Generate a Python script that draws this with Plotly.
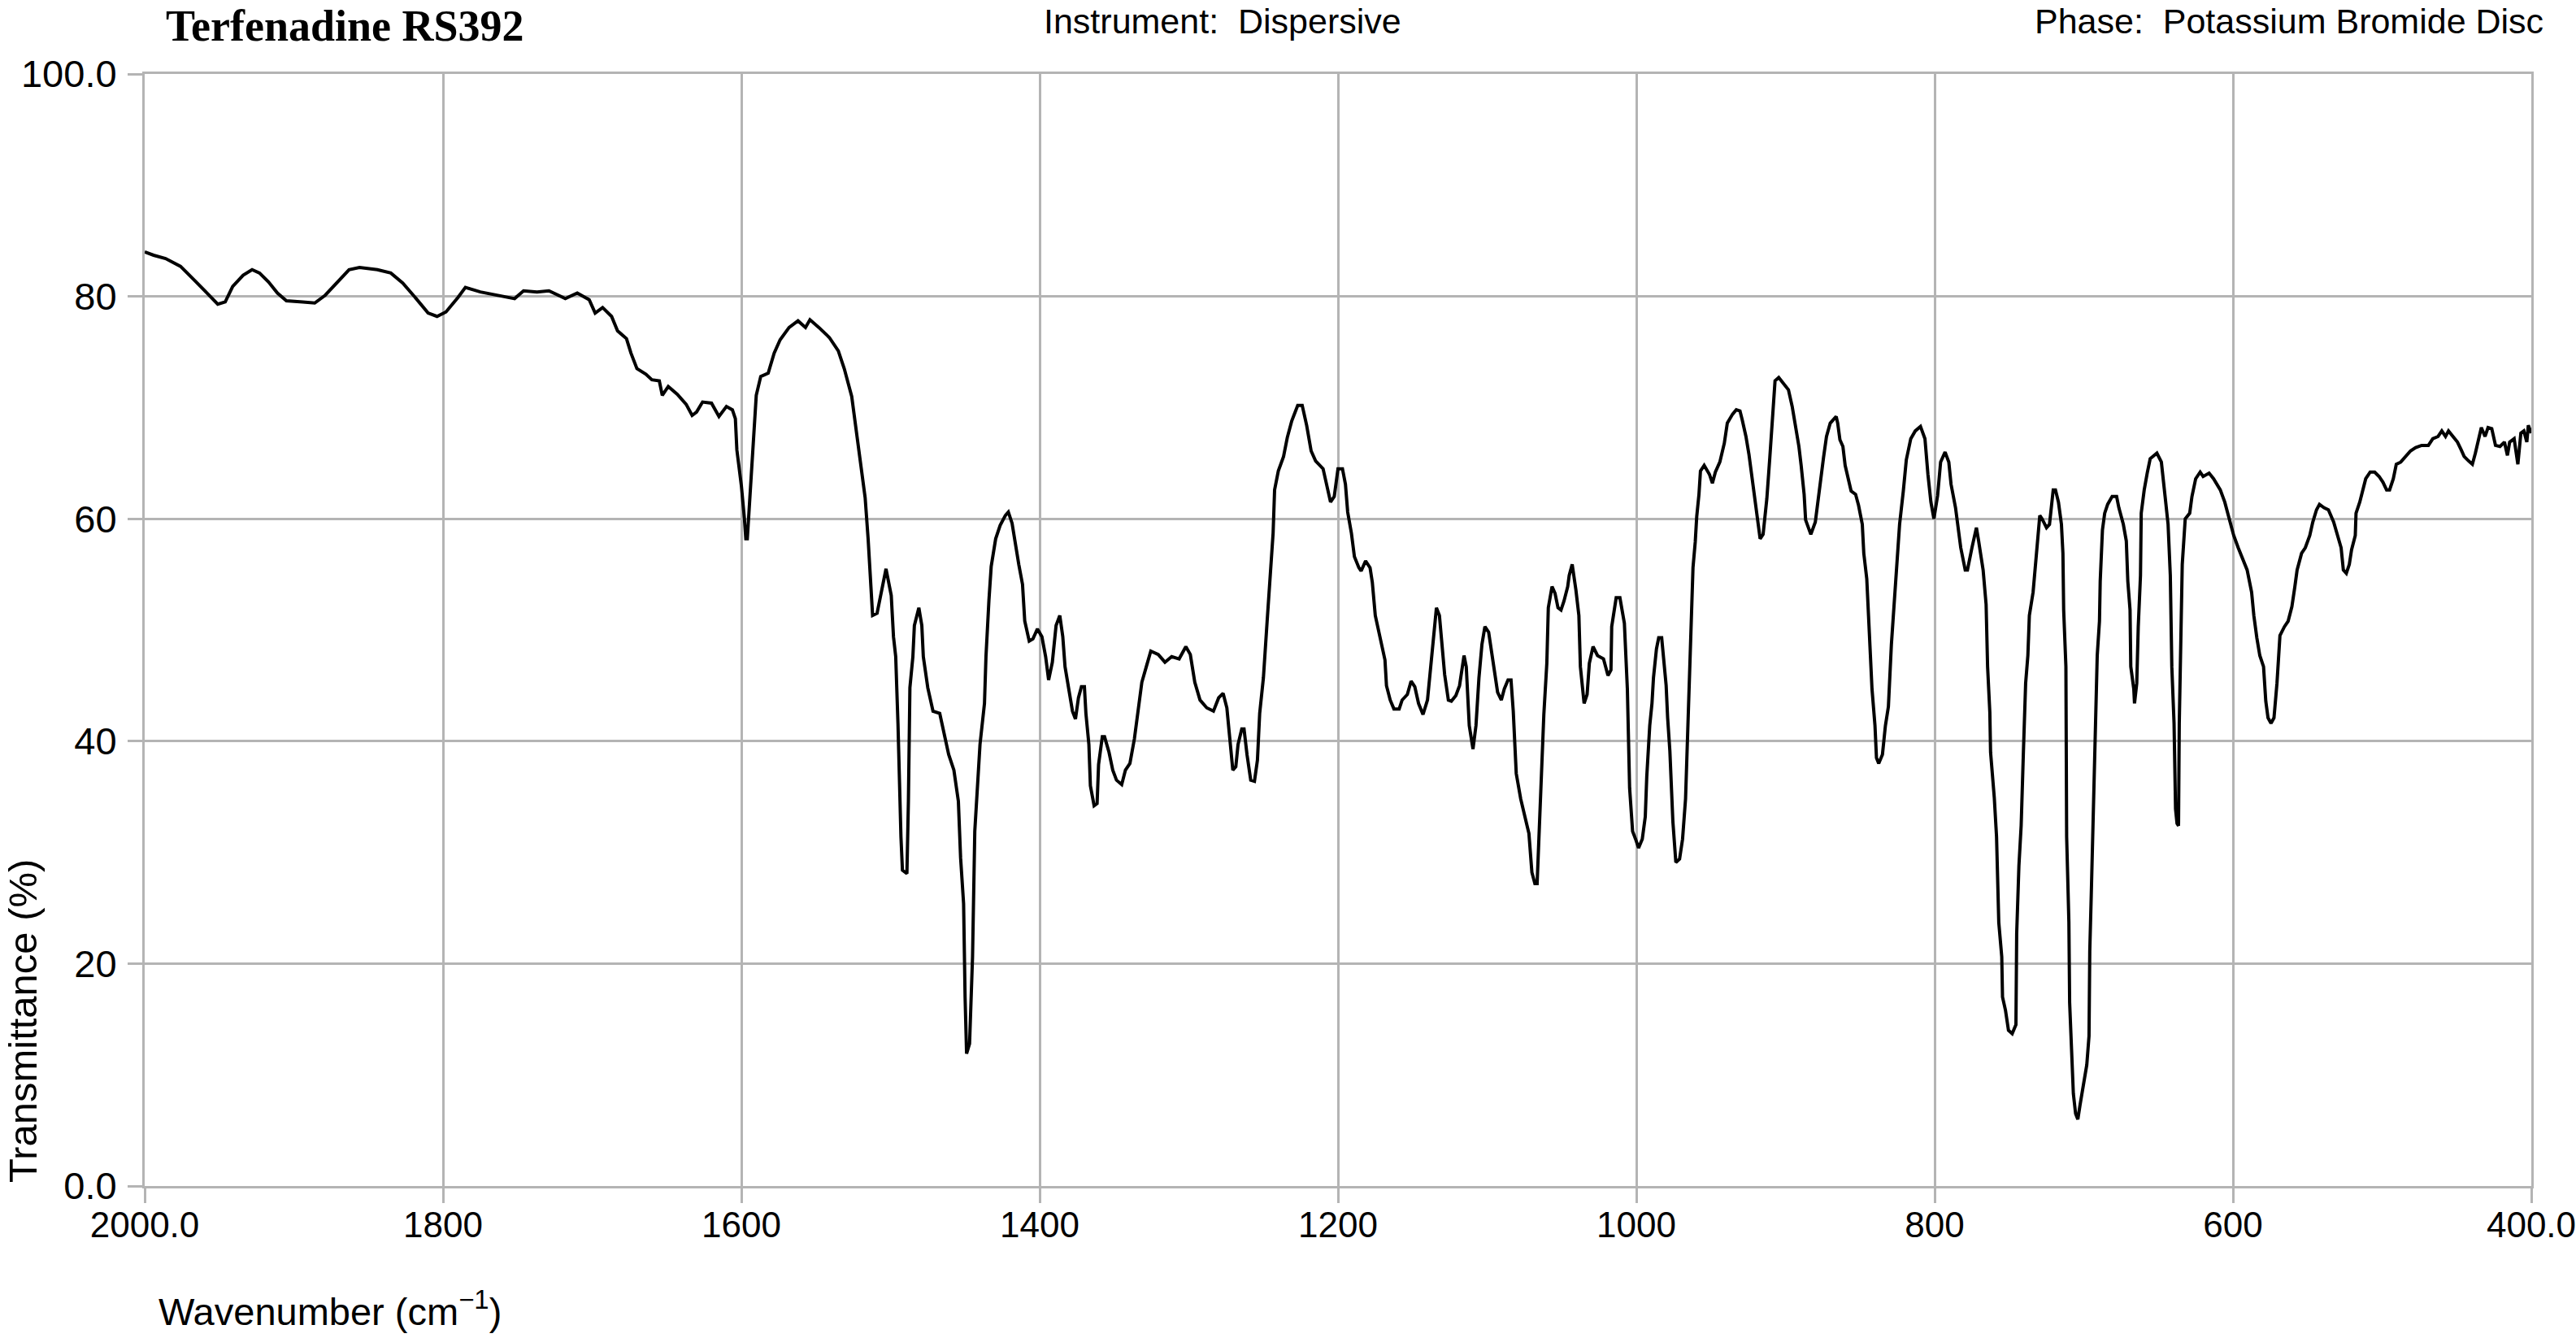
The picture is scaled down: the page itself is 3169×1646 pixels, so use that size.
import plotly.graph_objects as go

# ---------------- data ----------------
wavenumber = [
    2000, 1994, 1986, 1976, 1967, 1957, 1951, 1946, 1941, 1934, 1928, 1923, 1917, 1911, 1905, 1894,
    1886, 1879, 1871, 1863, 1856, 1844, 1835, 1827, 1818, 1810, 1804, 1798, 1790, 1785, 1775, 1764,
    1752, 1746, 1737, 1729, 1718, 1710, 1702, 1698, 1693, 1687, 1683, 1677, 1674, 1670, 1664, 1660,
    1655, 1653, 1649, 1643, 1637, 1633, 1630, 1626, 1620, 1615, 1610, 1606, 1604, 1603, 1600, 1598,
    1597, 1596, 1594, 1592, 1590, 1587, 1582, 1578, 1574, 1568, 1562, 1557, 1554, 1548, 1541, 1535,
    1531, 1526, 1523, 1520, 1517, 1515, 1513.5, 1512, 1509, 1506, 1503, 1499.5, 1498, 1496.5, 1495,
    1493, 1492, 1489, 1488, 1487, 1485, 1484, 1481, 1479, 1478, 1475, 1471.5, 1467, 1464, 1461,
    1457.5, 1454.5, 1453, 1451, 1450, 1449, 1447, 1445, 1443.5, 1442, 1440, 1437, 1436, 1434,
    1432.5, 1429.5, 1426.5, 1423, 1421, 1418.5, 1416.5, 1414, 1411.5, 1410, 1407, 1404.5, 1401.5,
    1398.5, 1396, 1394, 1391.5, 1389, 1386.5, 1384.5, 1383, 1380.5, 1378, 1376, 1374, 1372, 1370,
    1369, 1367, 1366, 1363.5, 1361.5, 1360.5, 1358, 1356.5, 1353.5, 1351, 1348.5, 1345, 1342.5,
    1339.5, 1336.5, 1334, 1331.5, 1328.5, 1325.5, 1320.5, 1316, 1311.5, 1306.5, 1302, 1299, 1296,
    1292.5, 1288, 1283.5, 1280, 1277, 1274.5, 1272.5, 1270.5, 1268.5, 1267, 1264.5, 1263, 1261,
    1258.5, 1256, 1254, 1252.5, 1250, 1247.5, 1245.5, 1243.5, 1242.5, 1240, 1236.5, 1234, 1231,
    1227, 1224, 1221, 1218, 1215, 1210, 1207, 1205, 1202.5, 1200, 1197, 1195, 1193.5, 1191, 1189,
    1186, 1184.5, 1181.5, 1178.5, 1177, 1175, 1173, 1171, 1168.5, 1167.5, 1165, 1162.5, 1159, 1157,
    1153.5, 1151, 1148.5, 1146, 1143, 1140, 1138, 1136, 1134, 1132, 1130.5, 1128.5, 1126, 1124,
    1121, 1118.5, 1115.5, 1114, 1112, 1109.5, 1107.5, 1105.5, 1103.5, 1101.5, 1099, 1097, 1095,
    1093, 1090.5, 1088.5, 1086, 1084, 1082.5, 1080.5, 1077.5, 1075, 1072, 1070, 1068, 1066.5, 1065,
    1063.5, 1062, 1060, 1059, 1056.5, 1054.5, 1052.5, 1050.5, 1048.5, 1046, 1045, 1043, 1040.5,
    1038.5, 1037.5, 1035, 1033, 1031.5, 1029, 1026, 1022, 1019, 1017, 1016.5, 1013.5, 1011, 1008,
    1006, 1004.5, 1002.5, 1000.5, 998.5, 996, 994, 993, 991, 989.5, 988.5, 986.5, 985, 983, 981.5,
    980, 979, 977.5, 975.5, 973.5, 971, 969, 967, 965.5, 963.5, 962, 960.5, 959.5, 958, 957, 954.5,
    951, 949, 947, 944, 941, 939, 935.5, 933, 930.5, 929, 926.5, 924.5, 922.5, 920.5, 918.5, 917,
    915, 912.5, 910.5, 909, 907, 904.5, 901.5, 898, 895.5, 893, 891, 889.5, 887.5, 886.5, 884.5,
    883, 880, 878, 876.5, 874.5, 872.5, 870, 866, 865, 863.5, 861.5, 860, 858, 856, 853, 851, 848.5,
    847.5, 845.5, 844, 842, 840, 839, 837.5, 835, 833, 831, 829, 827, 825, 823.5, 821, 819, 816, 813,
    809.5, 806.5, 804.5, 802.5, 800.5, 798, 796, 793, 790.5, 789, 786, 782.5, 779.5, 778, 775, 772,
    770.5, 767.5, 765.5, 764.5, 763, 762.5, 760, 758.5, 757, 755, 754.5, 752.5, 750.5, 748, 745.5,
    745, 743.5, 742, 740.5, 739, 737.5, 736.5, 734, 732.5, 731, 729.5, 728, 725, 723, 720.5, 719,
    717, 715, 714, 713.5, 712, 711.5, 710, 709.5, 708.5, 707, 705.5, 704, 702.5, 700, 698, 696.5,
    696, 695, 693.5, 692, 691, 689.5, 689, 687.5, 686, 684, 681, 678, 676.5, 673.5, 671.5, 670.5,
    669, 668.5, 666.5, 666, 664.5, 663.5, 662, 661.5, 659.5, 657.5, 655.5, 651, 648, 645.5, 643.5,
    642, 641, 639.5, 638.5, 637.5, 636.5, 636, 635, 634, 632, 629, 627.5, 625, 622, 620, 616, 613,
    608.5, 605.5, 602.5, 599.5, 596.5, 593.5, 590.5, 587.5, 586, 584, 582, 579.5, 578, 576.5, 574.5,
    572.5, 570.5, 568.5, 565.5, 563, 560.5, 558.5, 557, 554, 551.5, 548.5, 546.5, 544, 542, 539, 536,
    532.5, 529.5, 527.5, 526, 524, 522, 520.5, 518, 517.5, 515, 513, 511, 508, 505, 502, 499.5, 497,
    495, 492.5, 490.5, 487.5, 484, 481, 477.5, 473.5, 469, 466, 462.5, 460, 457.5, 455.5, 452.5,
    449.5, 447, 445, 442, 439.5, 437.5, 435, 433.5, 431, 429, 426.5, 424, 421, 418, 416, 414.5,
    411.5, 409, 407, 405, 403, 402, 400,
]

transmittance = [
    84.0, 83.7, 83.4, 82.7, 81.5, 80.1, 79.3, 79.5, 80.9, 81.9, 82.4, 82.1, 81.3, 80.3, 79.6, 79.5,
    79.4, 80.1, 81.3, 82.4, 82.6, 82.4, 82.1, 81.2, 79.8, 78.5, 78.2, 78.6, 79.9, 80.8, 80.4, 80.1,
    79.8, 80.5, 80.4, 80.5, 79.8, 80.3, 79.7, 78.5, 79.0, 78.2, 76.9, 76.2, 74.9, 73.5, 73.0, 72.5,
    72.4, 71.1, 71.9, 71.2, 70.3, 69.3, 69.6, 70.5, 70.4, 69.2, 70.1, 69.8, 69.0, 66.2, 63.0, 60.1,
    58.2, 58.2, 62.7, 67.8, 71.1, 72.8, 73.1, 74.9, 76.1, 77.2, 77.8, 77.2, 77.9, 77.2, 76.3, 75.1,
    73.5, 71.0, 68.0, 64.7, 61.9, 58.2, 55.0, 51.3, 51.5, 53.6, 55.5, 53.1, 49.4, 47.6, 41.6,
    31.4, 28.4, 28.1, 34.6, 44.8, 47.6, 50.4, 52.0, 50.4, 47.6, 44.8, 42.7, 42.5, 40.6, 38.8,
    37.4, 34.6, 29.5, 25.4, 17.0, 11.9, 12.8, 20.6, 31.9, 35.1, 39.7, 43.4, 47.6, 52.7,
    55.7, 58.2, 59.4, 60.3, 60.6, 59.6, 57.8, 55.9, 54.1, 50.8, 49.0, 49.2, 50.1,
    49.4, 47.6, 45.5, 47.1, 50.4, 51.3, 49.4, 46.7, 44.8, 42.7, 42.0, 43.9, 44.9, 44.9,
    42.5, 39.7, 36.0, 34.2, 34.4, 37.9, 40.4, 40.4, 39.0, 37.4, 36.5, 36.1, 37.4,
    38.0, 40.2, 42.5, 45.3, 46.7, 48.1, 47.8, 47.1, 47.6, 47.4, 48.5, 47.8, 45.3,
    43.7, 43.0, 42.7, 43.9, 44.3, 43.0, 40.2, 37.4, 37.7, 39.7, 41.1, 41.1, 38.8,
    36.5, 36.4, 38.3, 42.5, 45.7, 50.8, 55.0, 58.7, 62.6, 64.3, 65.6, 67.3, 68.8,
    70.2, 70.2, 68.4, 66.1, 65.2, 64.5, 62.6, 61.5, 62.0, 64.5, 64.5, 63.1, 60.6, 58.7, 56.6,
    55.6, 55.3, 56.2, 55.6, 54.3, 51.3, 50.0, 48.7, 47.3, 45.0, 43.7, 42.9, 42.9, 43.7,
    44.2, 45.4, 44.9, 43.4, 42.4, 43.7, 46.4, 49.3, 52.0, 51.3, 48.7, 46.0, 43.7, 43.6,
    44.1, 45.0, 47.7, 46.7, 41.4, 39.3, 41.4, 45.7, 48.7, 50.3, 49.8, 48.0, 46.0,
    44.4, 43.7, 44.7, 45.5, 45.5, 42.7, 37.1, 34.8, 33.5, 31.7, 28.2, 27.2, 27.2, 32.2,
    38.1, 42.4, 47.0, 52.0, 53.9, 53.3, 52.0, 51.8, 52.6, 53.9, 54.9, 55.9, 53.6,
    51.3, 46.7, 43.4, 44.2, 47.0, 48.5, 47.7, 47.4, 45.9, 46.4, 50.3, 52.9, 52.9, 50.6,
    44.7, 35.8, 31.9, 31.2, 30.4, 31.2, 33.2, 36.8, 41.4, 43.4, 45.7, 48.3, 49.3, 49.3, 47.3,
    45.0, 42.1, 39.1, 32.8, 29.1, 29.4, 31.2, 34.8, 41.7, 49.3, 55.6, 57.9, 60.2, 62.2, 64.3, 64.8,
    64.0, 63.2, 64.2, 65.1, 66.8, 68.6, 69.4, 69.8, 69.7, 68.9, 67.4, 65.8, 63.8, 62.2, 59.9, 58.2,
    58.6, 61.8, 65.5, 68.8, 72.4, 72.7, 72.2, 71.6, 70.1, 68.1, 66.5, 64.8, 62.2, 59.9, 59.2,
    58.6, 59.7, 61.8, 63.8, 65.5, 67.4, 68.6, 69.2, 68.6, 67.1, 66.5, 64.8, 63.5, 62.5, 62.2, 61.2, 59.5,
    56.9, 54.6, 49.7, 44.7, 41.4, 38.5, 38.0, 38.8, 41.4, 43.1, 48.7, 52.6, 55.9, 59.5, 62.5, 65.3, 67.2, 67.9,
    68.3, 67.2, 64.0, 61.5, 60.0, 62.1, 65.1, 66.0, 65.1, 63.1, 61.0, 57.4, 55.4, 55.4, 57.4, 59.2,
    58.0, 55.4, 52.3, 46.7, 42.6, 39.0, 34.9, 31.4, 23.7, 20.6, 17.0, 15.8, 14.0, 13.7, 14.5,
    22.7, 28.8, 32.4, 39.0, 45.2, 47.7, 51.3, 53.4, 55.7, 58.7, 60.3, 60.0, 59.2, 59.5, 62.6, 62.6,
    61.5, 59.5, 56.9, 51.8, 46.7, 31.4, 23.7, 16.5, 12.9, 8.3, 6.5, 6.0, 7.3, 9.4, 10.9, 13.5,
    21.1, 26.2, 34.9, 41.6, 47.7, 50.8, 54.4, 59.0, 60.5, 61.3, 62.0, 62.0, 61.0, 59.5, 58.0, 54.4,
    51.8, 46.7, 44.7, 43.4, 45.2, 50.3, 54.9, 60.5, 62.6, 64.1, 65.4, 65.9, 65.1, 62.0, 59.5,
    54.9, 46.7, 41.6, 33.9, 32.6, 32.4, 41.6, 47.7, 55.9, 60.0, 60.5, 62.0, 63.6, 64.2, 63.8, 64.1, 63.6,
    62.6, 61.5, 60.0, 58.5, 57.4, 56.4, 55.4, 53.4, 51.3, 49.3, 47.7, 46.7, 43.6, 42.1, 41.6,
    42.1, 45.2, 49.5, 50.3, 50.8, 52.1, 53.9, 55.4, 56.9, 57.4, 58.5, 59.7, 60.8, 61.3, 61.0, 60.8,
    59.7, 58.2, 57.4, 55.4, 55.1, 55.9, 57.2, 58.5, 60.5, 61.5, 62.6, 63.6, 64.2, 64.2, 63.8, 63.3, 62.6,
    62.6, 63.6, 64.9, 65.1, 65.6, 66.1, 66.4, 66.6, 66.6, 67.2, 67.4, 67.9, 67.4, 67.9, 67.4,
    66.9, 66.2, 65.6, 65.2, 64.9, 65.9, 67.2, 68.2, 67.4, 68.2, 68.1, 66.6, 66.5, 66.9, 65.7, 66.9,
    67.2, 64.9, 67.7, 67.9, 66.9, 68.4, 67.7,
]

x_tick_values = [2000, 1800, 1600, 1400, 1200, 1000, 800, 600, 400]
x_tick_labels = ["2000.0", "1800", "1600", "1400", "1200", "1000", "800", "600", "400.0"]
y_tick_values = [0, 20, 40, 60, 80, 100]
y_tick_labels = ["0.0", "20", "40", "60", "80", "100.0"]

title_text = "Terfenadine RS392"
instrument_text = "Instrument:\u00a0 Dispersive"
phase_text = "Phase:\u00a0 Potassium Bromide Disc"
x_title = "Wavenumber (cm<sup>\u22121</sup>)"
y_title = "Transmittance (%)"

# ---------------- layout ----------------
W, H = 3169, 1646
ML, MR, MT, MB = 178, 55, 91, 187
PW, PH = W - ML - MR, H - MT - MB

SANS = "Liberation Sans, Arial, sans-serif"
SERIF = "Liberation Serif, Times New Roman, serif"
GRID = "#b4b4b4"


def px(xp):
    return (xp - ML) / PW


def py(yp):
    return (H - MB - yp) / PH


fig = go.Figure()
fig.add_trace(go.Scatter(
    x=wavenumber, y=transmittance, mode="lines",
    line=dict(color="black", width=4), showlegend=False, hoverinfo="skip",
))

axis_common = dict(
    showgrid=True, gridcolor=GRID, gridwidth=3,
    showline=True, linecolor=GRID, linewidth=3, mirror=True,
    zeroline=False, ticks="outside", tickcolor=GRID, tickwidth=3, ticklen=18,
    automargin=False,
)

fig.update_layout(
    width=W, height=H,
    margin=dict(l=ML, r=MR, t=MT, b=MB, pad=0, autoexpand=False),
    paper_bgcolor="white", plot_bgcolor="white",
    xaxis=dict(range=[2000, 400], tickmode="array", tickvals=x_tick_values,
               ticktext=x_tick_labels, ticklabelstandoff=-11, ticklabeloverflow="allow",
               tickfont=dict(family=SANS, size=44, color="black"), **axis_common),
    yaxis=dict(range=[0, 100], tickmode="array", tickvals=y_tick_values,
               ticktext=y_tick_labels, ticklabelstandoff=4,
               tickfont=dict(family=SANS, size=47, color="black"), **axis_common),
    annotations=[
        dict(text="<b>%s</b>" % title_text, xref="paper", yref="paper",
             x=px(202), y=py(0), xanchor="left", yanchor="top", showarrow=False,
             font=dict(family=SERIF, size=54, color="black")),
        dict(text=instrument_text, xref="paper", yref="paper",
             x=px(1282), y=py(0), xanchor="left", yanchor="top", showarrow=False,
             font=dict(family=SANS, size=43, color="black")),
        dict(text=phase_text, xref="paper", yref="paper",
             x=px(3131), y=py(0), xanchor="right", yanchor="top", showarrow=False,
             font=dict(family=SANS, size=43, color="black")),
        dict(text=x_title, xref="paper", yref="paper",
             x=px(193), y=py(1610), xanchor="left", yanchor="middle", showarrow=False,
             font=dict(family=SANS, size=47, color="black")),
        dict(text=y_title, xref="paper", yref="paper", textangle=-90,
             x=px(28), y=py(1256), xanchor="center", yanchor="middle", showarrow=False,
             font=dict(family=SANS, size=49, color="black")),
    ],
)

fig.write_html("out.html", config={"displayModeBar": False},
               post_script="document.body.style.margin='0';")
